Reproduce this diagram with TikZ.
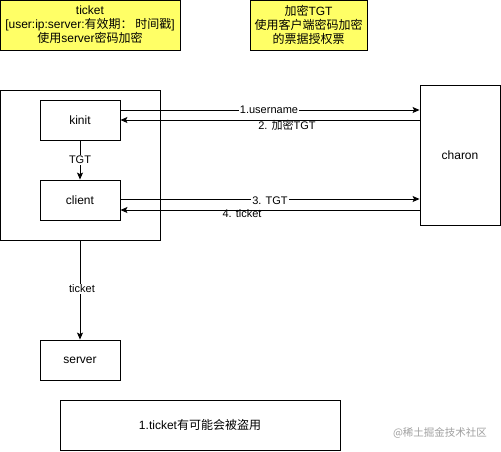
\documentclass[tikz,border=0pt]{standalone}
\usepackage{fontspec}
\setmainfont{Liberation Sans}
\newfontfamily\cjkfont{Noto Sans CJK SC}
\newcommand\zh[1]{{\cjkfont #1}}
\usetikzlibrary{arrows.meta}
\definecolor{noteyellow}{HTML}{FFFF66}
\definecolor{wmgray}{HTML}{A0A0A0}
\begin{document}
\begin{tikzpicture}[x=1pt,y=-1pt,
  box/.style={draw=black,line width=0.9pt,fill=white},
  note/.style={draw=black,line width=0.9pt,fill=noteyellow},
  conn/.style={line width=0.9pt,-{Stealth[length=7pt,width=6pt,inset=1.5pt]}},
  lbl/.style={font=\fontsize{11}{13}\selectfont,inner sep=1pt},
  txt/.style={font=\fontsize{12}{14}\selectfont,align=center}]
\useasboundingbox (0,0) rectangle (501,451);
\fill[white] (0,0) rectangle (501,451);
% notes
\draw[note] (0,0) rectangle (180,50);
\node[txt] (n1) at (90,25) {ticket\\{}[user:ip:server:\zh{有效期：\ 时间戳}]\\\zh{使用}server\zh{密码加密}};
\draw[note] (250,0) rectangle (367,50);
\node[txt] (n2) at (308.5,25) {\zh{加密}TGT\\\zh{使用客户端密码加密}\\\zh{的票据授权票}};
% outer box
\draw[box] (0,90) rectangle (160,240);
\coordinate (outerB) at (80,240);
\node[box,minimum width=80pt,minimum height=40pt,txt] (kinit) at (80,120) {kinit};
\node[box,minimum width=80pt,minimum height=40pt,txt] (client) at (80,200) {client};
\node[box,minimum width=80pt,minimum height=140pt,txt] (charon) at (460,155) {charon};
\node[box,minimum width=80pt,minimum height=40pt,txt] (server) at (80,360) {server};
\node[box,minimum width=280pt,minimum height=50pt,txt] (bnote) at (200,425) {1.ticket\zh{有可能会被盗用}};
% connectors
\draw[conn] (kinit.east |- 0,110) -- (charon.west |- 0,110);
\node[lbl,fill=white] (l1) at (269,110) {1.username};
\draw[conn] (charon.west |- 0,120) -- (kinit.east |- 0,120);
\node[lbl] (l2) at (287,125) {2. \zh{加密}TGT};
\draw[conn] (kinit.south) -- (client.north);
\node[lbl,fill=white] (l0) at (80,160) {TGT};
\draw[conn] (client.east |- 0,199) -- (charon.west |- 0,199);
\node[lbl,fill=white] (l3) at (270,201) {3. TGT};
\draw[conn] (charon.west |- 0,210) -- (client.east |- 0,210);
\node[lbl] (l4) at (242,214) {4. ticket};
\draw[conn] (outerB) -- (server.north);
\node[lbl,fill=white] (l5) at (82,289) {ticket};
% watermark
\node[font=\fontsize{10.5}{12}\selectfont\cjkfont,text=wmgray] (wm) at (440,433) {@稀土掘金技术社区};
\end{tikzpicture}
\end{document}
